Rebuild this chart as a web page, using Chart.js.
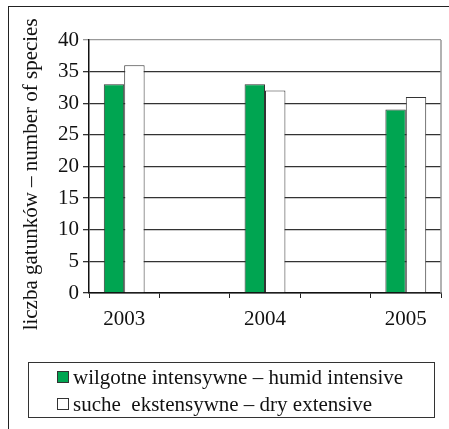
<!DOCTYPE html>
<html>
<head>
<meta charset="utf-8">
<script src="https://cdn.jsdelivr.net/npm/chart.js@4"></script>
<style>
  html, body { margin: 0; padding: 0; background: #fff; }
  body { width: 449px; height: 429px; position: relative; overflow: hidden; }
  #frame { position: absolute; left: 8px; top: 6px; width: 460px; height: 440px; border: 1.5px solid #222; box-sizing: border-box; }
  #wrap { position: absolute; left: 0; top: 0; width: 449px; height: 429px; }
  #legend { position: absolute; left: 28px; top: 362px; width: 407px; height: 56px; border: 1.5px solid #333; box-sizing: border-box;
            font-family: "Liberation Serif", "Times New Roman", serif; font-size: 21px; color: #111; }
  .item { position: absolute; left: 28px; height: 24px; line-height: 24px; white-space: pre; }
  .sw { display: inline-block; width: 10px; height: 10px; border: 1px solid #333; margin-right: 4px; vertical-align: 1px; }
</style>
</head>
<body>
<div id="frame"></div>
<div id="wrap"><canvas id="c" width="449" height="429"></canvas></div>
<div id="legend"></div>
<script>
// ===== DATA =====
const years = ['2003', '', '2004', '', '2005'];
const humidIntensive = [33, null, 33, null, 29];
const dryExtensive = [36, null, 32, null, 31];
const seriesNames = ['wilgotne intensywne \u2013 humid intensive', 'suche  ekstensywne \u2013 dry extensive'];
const seriesColors = ['#00a551', '#ffffff'];
// trailing spaces nudge the rotated title down a bit, like the original
const yTitle = 'liczba gatunk\u00f3w \u2013 number of species\u00a0\u00a0\u00a0';

const serif = "'Liberation Serif', 'Times New Roman', serif";

// right border of the plot (gray line)
const rightBorder = {
    id: 'rightBorder',
    afterDraw(chart) {
        const {ctx, chartArea} = chart;
        ctx.save();
        ctx.strokeStyle = '#999';
        ctx.lineWidth = 1.5;
        ctx.beginPath();
        ctx.moveTo(chartArea.right, chartArea.top);
        ctx.lineTo(chartArea.right, chartArea.bottom);
        ctx.stroke();
        ctx.restore();
    }
};

new Chart(document.getElementById('c'), {
    type: 'bar',
    data: {
        labels: years,
        datasets: [
            { label: seriesNames[0], data: humidIntensive, backgroundColor: seriesColors[0], borderColor: '#333', borderWidth: 1 },
            { label: seriesNames[1], data: dryExtensive, backgroundColor: seriesColors[1], borderColor: '#333', borderWidth: 1 }
        ]
    },
    options: {
        responsive: false,
        animation: false,
        categoryPercentage: 0.58,
        barPercentage: 1,
        layout: { padding: { left: 19, top: 40, right: 8, bottom: 96 } },
        plugins: { legend: { display: false }, tooltip: { enabled: false } },
        scales: {
            x: {
                grid: { drawOnChartArea: false, drawTicks: true, tickLength: 5, color: '#222' },
                border: { color: '#111', width: 1.5 },
                ticks: { color: '#111', font: { family: serif, size: 21 }, padding: 9, maxRotation: 0, autoSkip: false },
                afterFit: (s) => { s.height = 40; }
            },
            y: {
                min: 0, max: 40,
                ticks: { stepSize: 5, color: '#111', font: { family: serif, size: 21 }, padding: 4 },
                grid: { color: (c) => c.tick && c.tick.value === 40 ? '#999' : '#333', lineWidth: 1.3, tickLength: 6 },
                border: { color: '#111', width: 1.5 },
                title: { display: true, text: yTitle, color: '#111', font: { family: serif, size: 21 }, padding: { top: 0, bottom: 0 } },
                afterFit: (s) => { s.width = 70; }
            }
        }
    },
    plugins: [rightBorder]
});

// legend
const legend = document.getElementById('legend');
seriesNames.forEach((name, i) => {
    const row = document.createElement('div');
    row.className = 'item';
    row.style.top = (2 + i * 27) + 'px';
    const sw = document.createElement('span');
    sw.className = 'sw';
    sw.style.background = seriesColors[i];
    row.appendChild(sw);
    row.appendChild(document.createTextNode(name));
    legend.appendChild(row);
});
</script>
</body>
</html>
